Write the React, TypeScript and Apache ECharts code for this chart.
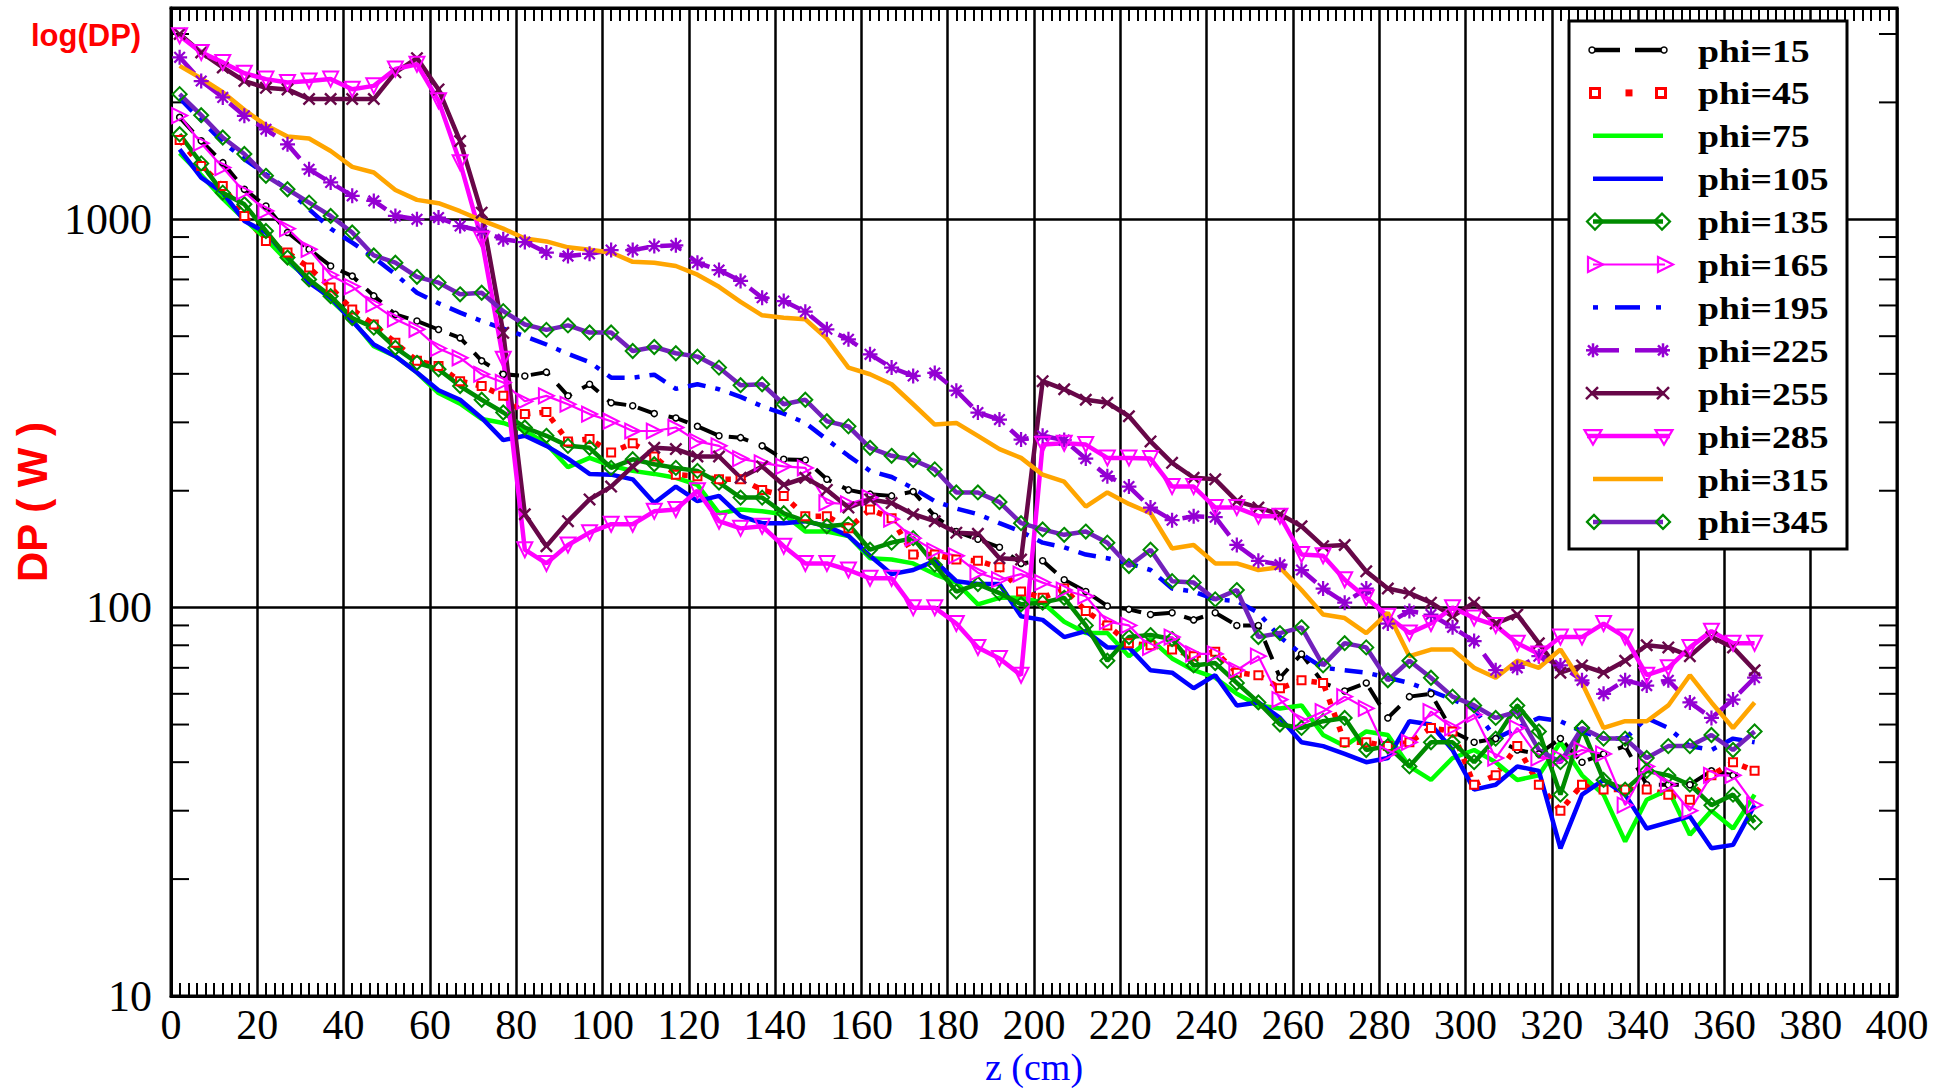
import React, { useEffect, useRef } from 'react';
import * as echarts from 'echarts';

// ---------------- data ----------------
const zCm = [
  2, 7, 12, 17, 22, 27, 32, 37, 42, 47,
  52, 57, 62, 67, 72, 77, 82, 87, 92, 97,
  102, 107, 112, 117, 122, 127, 132, 137, 142, 147,
  152, 157, 162, 167, 172, 177, 182, 187, 192, 197,
  202, 207, 212, 217, 222, 227, 232, 237, 242, 247,
  252, 257, 262, 267, 272, 277, 282, 287, 292, 297,
  302, 307, 312, 317, 322, 327, 332, 337, 342, 347,
  352, 357, 362, 367,
];

const phi15 = [
  1830, 1592, 1399, 1195, 1082, 925, 837, 758, 714, 635,
  569, 547, 520, 495, 432, 399, 395, 404, 351, 376,
  337, 331, 316, 308, 293, 277, 274, 261, 241, 240,
  214, 201, 196, 194, 199, 172, 157, 150, 143, 130,
  132, 118, 110, 101, 99, 96, 97, 93, 97, 90,
  90, 66, 76, 64, 61, 64, 52, 59, 60, 48,
  45, 46, 43, 42, 46, 40, 42, 44, 35, 35,
  35, 38, 37, 38,
];
const phi45 = [
  1600, 1372, 1218, 1020, 879, 821, 751, 667, 586, 536,
  481, 432, 419, 383, 372, 351, 315, 319, 268, 272,
  251, 265, 245, 220, 218, 214, 214, 201, 194, 172,
  172, 160, 179, 170, 137, 137, 133, 132, 127, 110,
  106, 112, 98, 90, 81, 80, 78, 75, 77, 68,
  67, 62, 65, 64, 45, 45, 44, 45, 49, 48,
  35, 37, 44, 35, 30, 35, 34, 34, 34, 33,
  32, 37, 40, 38,
];
const phi75 = [
  1480, 1300, 1130, 1000, 890, 780, 700, 620, 550, 471,
  444, 403, 357, 335, 306, 299, 286, 264, 230, 243,
  232, 225, 221, 216, 207, 175, 179, 177, 174, 157,
  157, 153, 134, 133, 130, 122, 116, 102, 106, 106,
  103, 92, 86, 86, 75, 83, 74, 69, 66, 60,
  56, 55, 56, 47, 44, 48, 47, 39, 36, 41,
  43, 40, 36, 37, 45, 37, 33, 25, 32, 34,
  26, 30, 27, 33,
];
const phi105 = [
  1514, 1280, 1171, 990, 925, 797, 687, 628, 547, 476,
  444, 403, 363, 343, 308, 270, 277, 261, 242, 221,
  220, 214, 186, 205, 188, 194, 172, 165, 165, 167,
  162, 153, 136, 122, 125, 132, 117, 115, 115, 95,
  93, 84, 87, 79, 79, 69, 68, 62, 67, 56,
  57, 52, 45, 44, 42, 40, 41, 51, 50, 43,
  34, 35, 39, 38, 24, 33, 36, 33, 27, 28,
  29, 24, 24.5, 31,
];
const phi135 = [
  1656, 1393, 1171, 1093, 933, 797, 700, 634, 557, 526,
  467, 427, 411, 372, 343, 318, 291, 277, 261, 258,
  229, 241, 234, 229, 225, 210, 192, 192, 175, 167,
  162, 164, 141, 147, 151, 129, 110, 115, 109, 102,
  103, 106, 90, 73, 84, 85, 83, 71, 72, 64,
  57, 50, 49, 51, 52, 43, 44, 39, 45, 45,
  40, 46, 56, 48, 33, 49, 36, 34, 38, 37,
  35, 31, 33, 28,
];
const phi165 = [
  1850, 1570, 1359, 1176, 1051, 946, 837, 718, 671, 604,
  553, 521, 465, 440, 399, 380, 340, 351, 334, 315,
  302, 285, 285, 291, 268, 261, 242, 236, 231, 229,
  186, 185, 192, 169, 151, 140, 136, 123, 118, 122,
  116, 111, 107, 92, 90, 79, 84, 76, 76, 69,
  75, 58, 51, 54, 59, 55, 42, 45, 54, 49,
  53, 41, 49, 41, 41, 43, 42, 31, 39, 35,
  30, 37, 37, 31,
];
const phi195 = [
  2050, 1800, 1580, 1429, 1306, 1195, 1061, 946, 871, 797,
  722, 647, 608, 575, 547, 523, 500, 476, 450, 429,
  391, 391, 398, 366, 376, 365, 349, 330, 316, 299,
  271, 246, 225, 217, 203, 188, 180, 174, 165, 157,
  147, 143, 137, 134, 130, 125, 112, 110, 105, 104,
  97, 84, 76, 70, 69, 68, 66, 64, 61, 58,
  55, 46, 49, 52, 51, 48, 46, 46, 52, 49,
  44, 43, 46, 45,
];
const phi225 = [
  2612, 2270, 2060, 1847, 1705, 1560, 1345, 1244, 1149, 1115,
  1020, 1000, 1010, 961, 933, 888, 874, 821, 804, 815,
  833, 833, 853, 857, 773, 740, 694, 628, 616, 578,
  521, 491, 449, 415, 395, 402, 362, 318, 305, 271,
  277, 270, 242, 218, 205, 181, 168, 172, 171, 145,
  132, 129, 125, 112, 103, 112, 91, 98, 96, 89,
  82, 69, 70, 75, 71, 65, 60, 65, 63, 65,
  57, 52, 58, 66,
];
const phi255 = [
  3000, 2690, 2460, 2270, 2180, 2160, 2040, 2040, 2040, 2040,
  2390, 2600, 2160, 1590, 1040, 510, 174, 144, 167, 190,
  205, 231, 258, 256, 245, 245, 216, 231, 207, 216,
  201, 181, 190, 186, 174, 167, 156, 155, 134, 133,
  383, 365, 343, 337, 311, 268, 236, 216, 214, 188,
  181, 174, 162, 144, 145, 124, 112, 109, 103, 95,
  103, 91, 96, 81, 68, 71, 68, 73, 80, 79,
  75, 84, 79, 69,
];
const phi285 = [
  2970, 2690, 2535, 2377, 2296, 2250, 2270, 2296, 2163, 2206,
  2437, 2508, 2018, 1399, 888, 436, 141, 130, 145, 156,
  164, 164, 177, 179, 200, 167, 160, 162, 144, 130,
  130, 125, 119, 119, 100, 100, 91, 79, 74, 67,
  263, 265, 263, 243, 243, 242, 205, 205, 181, 181,
  172, 172, 137, 136, 118, 106, 95, 86, 91, 100,
  94, 90, 81, 76, 84, 84, 91, 84, 67, 70,
  79, 87, 81, 81,
];
const phi315 = [
  2483, 2306, 2125, 1914, 1746, 1633, 1614, 1499, 1364, 1320,
  1190, 1122, 1100, 1049, 994, 946, 892, 877, 847, 835,
  821, 777, 773, 758, 720, 670, 613, 566, 558, 553,
  493, 415, 399, 376, 334, 296, 299, 277, 256, 243,
  220, 211, 182, 198, 185, 175, 142, 145, 130, 130,
  125, 127, 111, 96, 94, 86, 97, 75, 78, 78,
  70, 66, 73, 70, 78, 64, 49, 51, 51, 56,
  67, 57, 49, 57,
];
const phi345 = [
  2100, 1854, 1624, 1473, 1294, 1195, 1104, 1020, 925, 807,
  773, 711, 687, 641, 647, 580, 536, 519, 533, 511,
  511, 458, 469, 452, 443, 415, 374, 376, 334, 343,
  302, 293, 258, 246, 240, 227, 198, 198, 187, 165,
  159, 154, 157, 147, 128, 141, 117, 116, 105, 111,
  84, 86, 89, 71, 81, 79, 65, 73, 66, 59,
  56, 52, 54, 43, 40, 49, 46, 46, 41, 44,
  44, 47, 43, 48,
];

const yMinorTicks = [20, 30, 40, 50, 60, 70, 80, 90, 200, 300, 400, 500, 600, 700, 800, 900, 2000, 3000];
const yMajorLabels = [10, 100, 1000];

// ---------------- styles ----------------
const SERIF = '"Liberation Serif", "Times New Roman", serif';
const SANS = '"Liberation Sans", Arial, sans-serif';
const C_RED = '#FF0000';
const C_LIME = '#00FF00';
const C_BLUE = '#0000FF';
const C_GREEN4 = '#008B00';
const C_MAGENTA = '#FF00FF';
const C_VIOLET = '#9400D3';
const C_MAROON = '#670748';
const C_ORANGE = '#FFA500';
const C_INDIGO = '#7221BC';
const CLEAR = 'rgba(255,255,255,0)';

const AST_PATH =
  'path://M-1.5,-10L1.5,-10L1.5,10L-1.5,10Z M-10,-1.5L10,-1.5L10,1.5L-10,1.5Z ' +
  'M-6.01,-8.13L8.13,6.01L6.01,8.13L-8.13,-6.01Z M-8.13,6.01L6.01,-8.13L8.13,-6.01L-6.01,8.13Z';
const X_PATH =
  'path://M-6.01,-8.13L8.13,6.01L6.01,8.13L-8.13,-6.01Z M-8.13,6.01L6.01,-8.13L8.13,-6.01L-6.01,8.13Z';

function lineSeries(name: string, values: number[], extra: any) {
  return {
    type: 'line',
    name,
    data: zCm.map((z, i) => [z, values[i]]),
    symbol: 'none',
    ...extra,
  };
}

// ---------------- legend (drawn as graphic) ----------------
function hline(x1: number, x2: number, y: number, stroke: string, lineWidth: number) {
  return { type: 'line', z: 101, shape: { x1, y1: y, x2, y2: y }, style: { stroke, lineWidth } };
}
function diamond(cx: number, cy: number, r: number, stroke: string) {
  return {
    type: 'polygon', z: 102,
    shape: { points: [[cx - r, cy], [cx, cy - r], [cx + r, cy], [cx, cy + r]] },
    style: { fill: 'none', stroke, lineWidth: 2.2 },
  };
}
function triRight(cx: number, cy: number, stroke: string) {
  return {
    type: 'polygon', z: 102,
    shape: { points: [[cx - 7, cy - 7.5], [cx + 8, cy], [cx - 7, cy + 7.5]] },
    style: { fill: 'none', stroke, lineWidth: 2.2 },
  };
}
function triDown(cx: number, cy: number, stroke: string) {
  return {
    type: 'polygon', z: 102,
    shape: { points: [[cx - 8.5, cy - 6], [cx + 8.5, cy - 6], [cx, cy + 8.5]] },
    style: { fill: 'none', stroke, lineWidth: 2.2 },
  };
}
function asterisk(cx: number, cy: number, stroke: string) {
  const r = 7;
  const d = 5;
  return {
    type: 'group', z: 102,
    children: [
      { type: 'line', z: 102, shape: { x1: cx - r, y1: cy, x2: cx + r, y2: cy }, style: { stroke, lineWidth: 2.5 } },
      { type: 'line', z: 102, shape: { x1: cx, y1: cy - r, x2: cx, y2: cy + r }, style: { stroke, lineWidth: 2.5 } },
      { type: 'line', z: 102, shape: { x1: cx - d, y1: cy - d, x2: cx + d, y2: cy + d }, style: { stroke, lineWidth: 2.5 } },
      { type: 'line', z: 102, shape: { x1: cx - d, y1: cy + d, x2: cx + d, y2: cy - d }, style: { stroke, lineWidth: 2.5 } },
    ],
  };
}
function cross(cx: number, cy: number, stroke: string) {
  const d = 6;
  return {
    type: 'group', z: 102,
    children: [
      { type: 'line', z: 102, shape: { x1: cx - d, y1: cy - d, x2: cx + d, y2: cy + d }, style: { stroke, lineWidth: 2.5 } },
      { type: 'line', z: 102, shape: { x1: cx - d, y1: cy + d, x2: cx + d, y2: cy - d }, style: { stroke, lineWidth: 2.5 } },
    ],
  };
}
function circ(cx: number, cy: number) {
  return { type: 'circle', z: 102, shape: { cx, cy, r: 3 }, style: { fill: '#fff', stroke: '#000', lineWidth: 1.5 } };
}
function sq(cx: number, cy: number, s: number, fill: string, stroke: string, lw: number) {
  return { type: 'rect', z: 102, shape: { x: cx - s / 2, y: cy - s / 2, width: s, height: s }, style: { fill, stroke, lineWidth: lw } };
}

const legendNames = [
  'phi=15', 'phi=45', 'phi=75', 'phi=105', 'phi=135', 'phi=165',
  'phi=195', 'phi=225', 'phi=255', 'phi=285', 'phi=315', 'phi=345',
];

function buildLegend() {
  const els: any[] = [];
  els.push({
    type: 'rect', z: 100,
    shape: { x: 1569, y: 21, width: 278, height: 528 },
    style: { fill: '#fff', stroke: '#000', lineWidth: 3 },
  });
  const rowY = (i: number) => 50 + i * 42.9;
  let y = rowY(0);
  els.push(hline(1590, 1620, y, '#000', 4.5), hline(1635, 1666, y, '#000', 4.5), circ(1592, y), circ(1664, y));
  y = rowY(1);
  els.push(sq(1595, y, 9, '#fff', C_RED, 3), sq(1629, y, 7, C_RED, C_RED, 0), sq(1661, y, 9, '#fff', C_RED, 3));
  y = rowY(2);
  els.push(hline(1593, 1663, y, C_LIME, 4.5));
  y = rowY(3);
  els.push(hline(1593, 1663, y, C_BLUE, 4.5));
  y = rowY(4);
  els.push(hline(1593, 1663, y, C_GREEN4, 4.5), diamond(1595, y, 8, C_GREEN4), diamond(1662, y, 8, C_GREEN4));
  y = rowY(5);
  els.push(hline(1593, 1665, y, C_MAGENTA, 2), triRight(1595, y, C_MAGENTA), triRight(1665, y, C_MAGENTA));
  y = rowY(6);
  els.push(hline(1593, 1598, y, C_BLUE, 4.5), hline(1615, 1640, y, C_BLUE, 4.5), hline(1656, 1661, y, C_BLUE, 4.5));
  y = rowY(7);
  els.push(hline(1590, 1619, y, C_VIOLET, 4.5), hline(1635, 1667, y, C_VIOLET, 4.5), asterisk(1593, y, C_VIOLET), asterisk(1663, y, C_VIOLET));
  y = rowY(8);
  els.push(hline(1590, 1665, y, C_MAROON, 4.5), cross(1592, y, C_MAROON), cross(1663, y, C_MAROON));
  y = rowY(9);
  els.push(hline(1587, 1670, y, C_MAGENTA, 4.5), triDown(1593, y, C_MAGENTA), triDown(1664, y, C_MAGENTA));
  y = rowY(10);
  els.push(hline(1593, 1663, y, C_ORANGE, 4.5));
  y = rowY(11);
  els.push(hline(1593, 1663, y, C_INDIGO, 4.5), diamond(1594, y, 7, C_GREEN4), diamond(1663, y, 7, C_GREEN4));

  legendNames.forEach((name, i) => {
    els.push({
      type: 'text', z: 103,
      x: 1698, y: rowY(i) + 1, scaleX: 1.18,
      style: {
        text: name, fill: '#000', fontSize: 32, fontWeight: 'bold', fontFamily: SERIF,
        align: 'left', verticalAlign: 'middle',
      },
    });
  });
  return els;
}

export default function App() {
  const ref = useRef<HTMLDivElement>(null);

  useEffect(() => {
    document.body.style.margin = '0';
    if (!ref.current) return;
    const chart = echarts.init(ref.current, undefined, { renderer: 'svg' });

    const hollow = (c: string) => ({ color: CLEAR, borderColor: c, borderWidth: 2 });

    const series: any[] = [
      {
        type: 'custom',
        name: 'yMinorTicks',
        silent: true,
        data: yMinorTicks.map((v) => [0, v]),
        encode: { x: 0, y: 1 },
        renderItem: (params: any, api: any) => {
          const v = api.value(1);
          const pl = api.coord([0, v]);
          const pr = api.coord([400, v]);
          return {
            type: 'group',
            children: [
              { type: 'line', shape: { x1: pl[0], y1: pl[1], x2: pl[0] + 18, y2: pl[1] }, style: { stroke: '#000', lineWidth: 2 } },
              { type: 'line', shape: { x1: pr[0] - 18, y1: pr[1], x2: pr[0], y2: pr[1] }, style: { stroke: '#000', lineWidth: 2 } },
            ],
          };
        },
      },
      lineSeries('phi=15', phi15, {
        lineStyle: { color: '#000', width: 4, type: [20, 12], cap: 'butt' },
        symbol: 'circle', symbolSize: 6, itemStyle: { color: '#fff', borderColor: '#000', borderWidth: 1.5 },
      }),
      lineSeries('phi=45', phi45, {
        lineStyle: { color: C_RED, width: 5.5, type: [5.5, 9], cap: 'butt' },
        symbol: 'rect', symbolSize: 8, itemStyle: { color: '#fff', borderColor: C_RED, borderWidth: 2 },
      }),
      lineSeries('phi=75', phi75, { lineStyle: { color: C_LIME, width: 4.5 }, itemStyle: { color: C_LIME } }),
      lineSeries('phi=105', phi105, { lineStyle: { color: C_BLUE, width: 4.5 }, itemStyle: { color: C_BLUE } }),
      lineSeries('phi=135', phi135, {
        lineStyle: { color: C_GREEN4, width: 4.5 },
        symbol: 'diamond', symbolSize: 14, itemStyle: hollow(C_GREEN4),
      }),
      lineSeries('phi=165', phi165, {
        lineStyle: { color: C_MAGENTA, width: 2.2 },
        symbol: 'triangle', symbolSize: 15, symbolRotate: -90, itemStyle: hollow(C_MAGENTA),
      }),
      lineSeries('phi=195', phi195, {
        lineStyle: { color: C_BLUE, width: 4.5, type: [18, 10, 5, 10], cap: 'butt' }, itemStyle: { color: C_BLUE },
      }),
      lineSeries('phi=225', phi225, {
        lineStyle: { color: C_VIOLET, width: 4.5, type: [22, 12], cap: 'butt' },
        symbol: AST_PATH, symbolSize: 15, itemStyle: { color: C_VIOLET },
      }),
      lineSeries('phi=255', phi255, {
        lineStyle: { color: C_MAROON, width: 4.5 },
        symbol: X_PATH, symbolSize: 13, itemStyle: { color: C_MAROON },
      }),
      lineSeries('phi=285', phi285, {
        lineStyle: { color: C_MAGENTA, width: 4.5 },
        symbol: 'triangle', symbolSize: 15, symbolRotate: 180, itemStyle: hollow(C_MAGENTA),
      }),
      lineSeries('phi=315', phi315, { lineStyle: { color: C_ORANGE, width: 4.5 }, itemStyle: { color: C_ORANGE } }),
      lineSeries('phi=345', phi345, {
        lineStyle: { color: C_INDIGO, width: 4.5 },
        symbol: 'diamond', symbolSize: 14, itemStyle: hollow(C_GREEN4),
      }),
    ];

    const xCommon = {
      type: 'value',
      min: 0,
      max: 400,
      interval: 20,
      axisLine: { show: true, lineStyle: { color: '#000', width: 3 } },
      axisTick: { show: false, inside: true },
      minorTick: { show: true, splitNumber: 10, length: 13, lineStyle: { color: '#000', width: 2 } },
    };

    const option: any = {
      animation: false,
      backgroundColor: '#fff',
      title: {
        text: 'log(DP)',
        left: 31,
        top: 20,
        padding: 0,
        textStyle: { color: C_RED, fontWeight: 'bold', fontSize: 31, fontFamily: SANS },
      },
      grid: {
        left: 171, right: 52, top: 8, bottom: 92,
        show: true, borderColor: '#000', borderWidth: 3, backgroundColor: 'transparent',
        outerBoundsMode: 'none',
      },
      xAxis: [
        {
          ...xCommon,
          position: 'bottom',
          splitLine: { show: true, lineStyle: { color: '#000', width: 2.5 } },
          axisLabel: { show: true, color: '#000', fontSize: 42, fontFamily: SERIF, margin: 8 },
          name: 'z (cm)',
          nameLocation: 'middle',
          nameGap: 52,
          nameMoveOverlap: false,
          nameTextStyle: { color: C_BLUE, fontSize: 38, fontFamily: SERIF },
        },
        {
          ...xCommon,
          position: 'top',
          splitLine: { show: false },
          axisLabel: { show: false },
        },
      ],
      yAxis: {
        type: 'log',
        logBase: 10,
        min: 10,
        max: 3500,
        axisLine: { show: true, lineStyle: { color: '#000', width: 3 } },
        axisTick: { show: false },
        splitLine: { show: true, lineStyle: { color: '#000', width: 2.5 } },
        axisLabel: {
          color: '#000', fontSize: 44, fontFamily: SERIF, margin: 19,
          formatter: (v: number) => {
            const r = Math.round(v);
            return yMajorLabels.some((m) => Math.abs(m - v) < 0.01 * m) ? String(r) : '';
          },
        },
        name: 'DP ( W )',
        nameLocation: 'middle',
        nameRotate: 90,
        nameGap: 118,
        nameTextStyle: { color: C_RED, fontWeight: 'bold', fontSize: 42, fontFamily: SANS },
      },
      series,
      graphic: buildLegend(),
    };

    chart.setOption(option);
    return () => chart.dispose();
  }, []);

  return <div ref={ref} style={{ width: 1949, height: 1088 }} />;
}
